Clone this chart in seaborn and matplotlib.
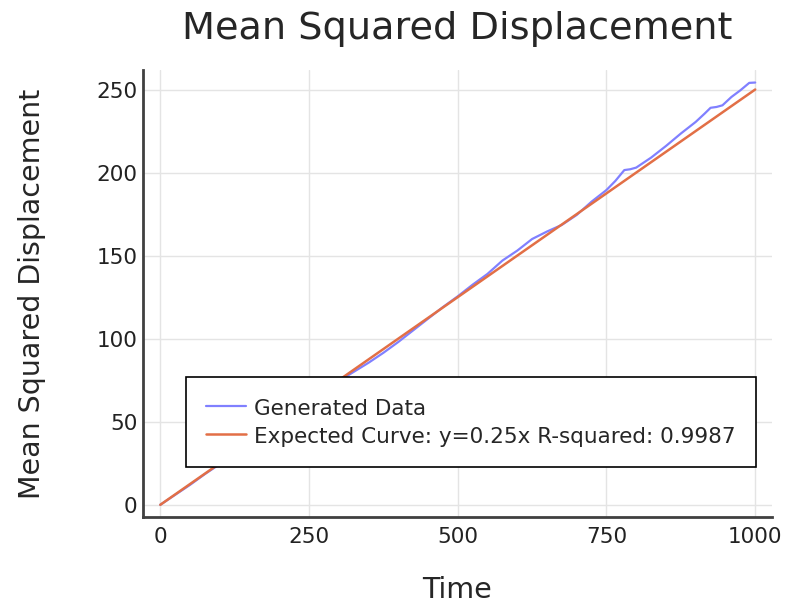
import matplotlib
matplotlib.use("Agg")
import matplotlib.pyplot as plt
import seaborn as sns
import pandas as pd

# Generated data
time = [0, 25, 50, 75, 100, 125, 150, 175, 200, 225, 250, 275, 300, 325, 350,
        375, 400, 425, 450, 475, 500, 525, 550, 575, 600, 625, 650, 675, 700,
        725, 750, 765, 780, 790, 800, 825, 850, 875, 900, 915, 925, 935, 945,
        960, 975, 990, 1000]
msd = [0, 6, 12, 18.5, 24.5, 31, 37, 43.5, 49.5, 55.5, 62, 68.5, 74.5, 80,
       85.5, 91.5, 98, 105, 112, 119, 125.5, 132.5, 139, 147, 153, 160, 164.5,
       168.5, 174.5, 182.5, 189.5, 195, 201.5, 202, 203, 209, 216, 223.5,
       230.5, 235.5, 239, 239.5, 240.5, 245.5, 249.5, 254, 254.2]

# Expected curve y = 0.25x (end points)
expected_time = [0, 1000]
expected_msd = [0, 250]

title = "Mean Squared Displacement"
xlabel = "Time"
ylabel = "Mean Squared Displacement"
label_data = "Generated Data"
label_expected = "Expected Curve: y=0.25x R-squared: 0.9987"
xticks = [0, 250, 500, 750, 1000]
yticks = [0, 50, 100, 150, 200, 250]

sns.set_style("white")
plt.rcParams['font.family'] = ['DejaVu Sans']

fig = plt.figure(figsize=(7.86, 6.08), dpi=100)
ax = fig.add_axes([0.182, 0.149, 0.800, 0.736])

df1 = pd.DataFrame({"Time": time, "MSD": msd})
df2 = pd.DataFrame({"Time": expected_time, "MSD": expected_msd})

sns.lineplot(data=df1, x="Time", y="MSD", ax=ax, color="#8080ff",
             linewidth=1.6, label=label_data, sort=False)
sns.lineplot(data=df2, x="Time", y="MSD", ax=ax, color="#e26f46",
             linewidth=1.8, label=label_expected, sort=False)

ax.set_xlim(-29, 1028)
ax.set_ylim(-7.6, 261.8)
ax.set_xticks(xticks)
ax.set_yticks(yticks)
ax.set_xticklabels([str(t) for t in xticks])
ax.set_yticklabels([str(t) for t in yticks])
ax.grid(True, color="#e4e4e4", linewidth=1.0)
ax.set_axisbelow(True)

for s in ["top", "right"]:
    ax.spines[s].set_visible(False)
for s in ["left", "bottom"]:
    ax.spines[s].set_color("#404040")
    ax.spines[s].set_linewidth(2.0)

ax.tick_params(axis="both", direction="in", length=6, width=1.2,
               color="#404040", labelsize=15.5, labelcolor="#222222")
ax.tick_params(axis="y", pad=4)
ax.tick_params(axis="x", pad=7)

ax.set_title(title, fontsize=27.5, pad=22)
ax.set_xlabel(xlabel, fontsize=20.5, labelpad=21)
ax.set_ylabel(ylabel, fontsize=20.5, labelpad=36)

leg = ax.legend(loc="lower left", bbox_to_anchor=(0.068, 0.112),
                borderaxespad=0, fontsize=15.5, frameon=True, fancybox=False,
                framealpha=1, edgecolor="black", handlelength=1.85,
                handleheight=1.0, handletextpad=0.35, borderpad=0.95,
                labelspacing=0.32)
leg.get_frame().set_linewidth(1.2)

fig.savefig("out.png", dpi=100)
